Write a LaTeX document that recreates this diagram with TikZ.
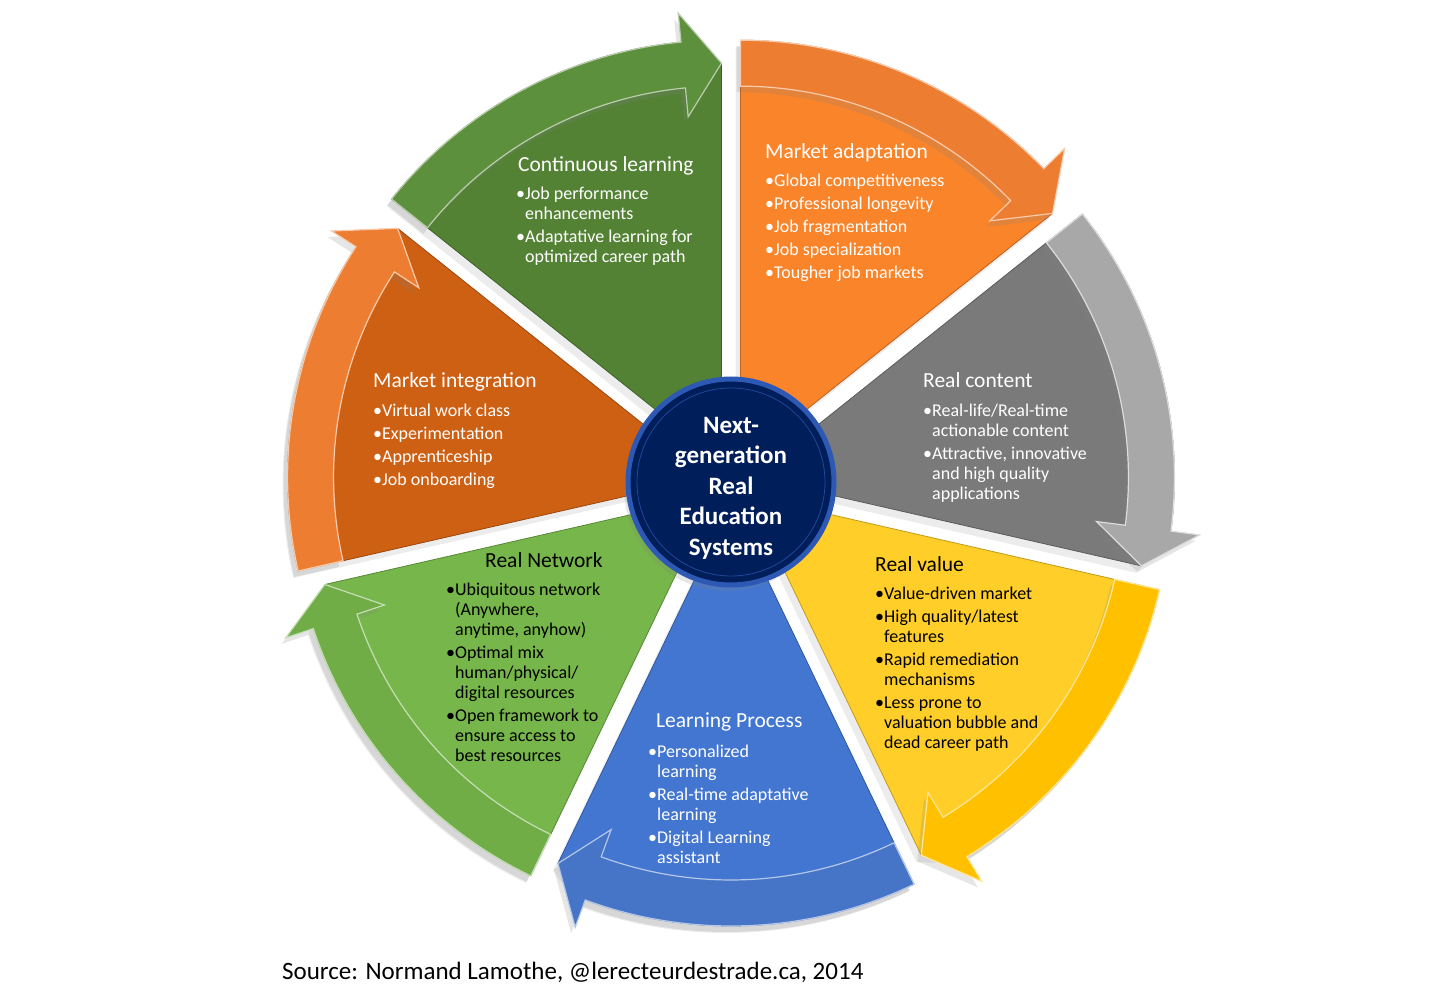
\documentclass[tikz,border=0pt]{standalone}
\usepackage{fontspec}
\setmainfont{Carlito}
\usetikzlibrary{shadows}
\definecolor{clgreen}{RGB}{84,130,53}
\definecolor{clband}{RGB}{92,144,60}
\definecolor{maorange}{RGB}{250,132,42}
\definecolor{maband}{RGB}{237,125,49}
\definecolor{rcgray}{RGB}{122,122,122}
\definecolor{rcband}{RGB}{168,168,168}
\definecolor{rvyellow}{RGB}{255,206,40}
\definecolor{rvband}{RGB}{255,192,0}
\definecolor{lpblue}{RGB}{66,118,208}
\definecolor{lpband}{RGB}{70,116,198}
\definecolor{rngreen}{RGB}{118,182,74}
\definecolor{rnband}{RGB}{112,173,71}
\definecolor{miorange}{RGB}{206,96,20}
\definecolor{miband}{RGB}{237,125,49}
\definecolor{hubnavy}{RGB}{0,30,90}
\definecolor{hubring}{RGB}{45,88,180}

\begin{document}
\begin{tikzpicture}[x=1pt,y=1pt]
    \tikzstyle{slice}=[line width=0.8pt, drop shadow={opacity=0.15, shadow xshift=-5pt, shadow yshift=-7pt}];
    \tikzstyle{band}=[line width=1.2pt, drop shadow={opacity=0.2, shadow xshift=-4pt, shadow yshift=-6pt}];
    \tikzstyle{ttl}=[anchor=base west, inner sep=0, font=\fontsize{21.5}{24}\selectfont];
    \tikzstyle{bul}=[anchor=north west, inner sep=0, align=left, font=\fontsize{18}{20}\selectfont, execute at begin node=\strut];

    \useasboundingbox (0,0) rectangle (1450,1002);

    % continuous learning
    \begin{scope}[shift={(731,520)}, shift={(115.71:22)}]
      \filldraw[slice, fill=clgreen, draw=clgreen!75!black] (0,0) -- (141.43:422) arc[start angle=141.43, end angle=95.5, radius=422pt] -- (90:399) -- cycle;
      \filldraw[band, fill=clband, draw=clgreen!40!white] (141.43:422) arc[start angle=141.43, end angle=95.5, radius=422pt] -- (95.5:451) -- (90:399) -- (95.5:347) -- (95.5:376) arc[start angle=95.5, end angle=141.43, radius=376pt] -- cycle;
    \end{scope}

    % market adaptation
    \begin{scope}[shift={(731,520)}, shift={(64.29:22)}]
      \filldraw[slice, fill=maorange, draw=maorange!75!black] (0,0) -- (90:422) arc[start angle=90, end angle=44.07, radius=422pt] -- (38.57:399) -- cycle;
      \filldraw[band, fill=maband, draw=maband!40!white] (90:422) arc[start angle=90, end angle=44.07, radius=422pt] -- (44.07:451) -- (38.57:399) -- (44.07:347) -- (44.07:376) arc[start angle=44.07, end angle=90, radius=376pt] -- cycle;
    \end{scope}

    % real content
    \begin{scope}[shift={(731,520)}, shift={(12.86:22)}]
      \filldraw[slice, fill=rcgray, draw=rcgray!75!black] (0,0) -- (38.57:422) arc[start angle=38.57, end angle=-7.36, radius=422pt] -- (-12.86:399) -- cycle;
      \filldraw[band, fill=rcband, draw=rcband!40!white] (38.57:422) arc[start angle=38.57, end angle=-7.36, radius=422pt] -- (-7.36:451) -- (-12.86:399) -- (-7.36:347) -- (-7.36:376) arc[start angle=-7.36, end angle=38.57, radius=376pt] -- cycle;
    \end{scope}

    % real value
    \begin{scope}[shift={(731,520)}, shift={(-38.57:22)}]
      \filldraw[slice, fill=rvyellow, draw=rvyellow!75!black] (0,0) -- (-12.86:422) arc[start angle=-12.86, end angle=-58.79, radius=422pt] -- (-64.29:399) -- cycle;
      \filldraw[band, fill=rvband, draw=rvband!40!white] (-12.86:422) arc[start angle=-12.86, end angle=-58.79, radius=422pt] -- (-58.79:451) -- (-64.29:399) -- (-58.79:347) -- (-58.79:376) arc[start angle=-58.79, end angle=-12.86, radius=376pt] -- cycle;
    \end{scope}

    % learning process
    \begin{scope}[shift={(731,520)}, shift={(-90:22)}]
      \filldraw[slice, fill=lpblue, draw=lpblue!75!black] (0,0) -- (-64.29:422) arc[start angle=-64.29, end angle=-110.21, radius=422pt] -- (-115.71:399) -- cycle;
      \filldraw[band, fill=lpband, draw=lpband!40!white] (-64.29:422) arc[start angle=-64.29, end angle=-110.21, radius=422pt] -- (-110.21:451) -- (-115.71:399) -- (-110.21:347) -- (-110.21:376) arc[start angle=-110.21, end angle=-64.29, radius=376pt] -- cycle;
    \end{scope}

    % real network
    \begin{scope}[shift={(731,520)}, shift={(-141.43:22)}]
      \filldraw[slice, fill=rngreen, draw=rngreen!75!black] (0,0) -- (-115.71:422) arc[start angle=-115.71, end angle=-161.64, radius=422pt] -- (-167.14:399) -- cycle;
      \filldraw[band, fill=rnband, draw=rnband!40!white] (-115.71:422) arc[start angle=-115.71, end angle=-161.64, radius=422pt] -- (-161.64:451) -- (-167.14:399) -- (-161.64:347) -- (-161.64:376) arc[start angle=-161.64, end angle=-115.71, radius=376pt] -- cycle;
    \end{scope}

    % market integration
    \begin{scope}[shift={(731,520)}, shift={(-192.86:22)}]
      \filldraw[slice, fill=miorange, draw=miorange!75!black] (0,0) -- (-167.14:422) arc[start angle=-167.14, end angle=-213.07, radius=422pt] -- (-218.57:399) -- cycle;
      \filldraw[band, fill=miband, draw=miband!40!white] (-167.14:422) arc[start angle=-167.14, end angle=-213.07, radius=422pt] -- (-213.07:451) -- (-218.57:399) -- (-213.07:347) -- (-213.07:376) arc[start angle=-213.07, end angle=-167.14, radius=376pt] -- cycle;
    \end{scope}

    % hub
    \node[circle, fill=hubnavy, draw=hubring, line width=5pt, minimum size=206pt, drop shadow={opacity=0.2, shadow xshift=-4pt, shadow yshift=-6pt}] at (731,520) (hub) {};
    \draw[hubring!70!hubnavy, line width=0.8pt] (hub.center) circle[radius=94pt];
    \node[align=center, text=white, font=\bfseries\fontsize{25}{30.5}\selectfont] at (731,514) (hubtxt) {Next-\\generation\\Real\\Education\\Systems};

    % texts
    \node[ttl, text=white] at (518,830.3) (cl) {Continuous learning};
    \node[bul, text=white] at (516,815) (clb) {•Job performance\\\hspace*{9pt}enhancements\\[3pt]•Adaptative learning for\\\hspace*{9pt}optimized career path};

    \node[ttl, text=white] at (765,843) (ma) {Market adaptation};
    \node[bul, text=white] at (765,828.3) (mab) {•Global competitiveness\\[3pt]•Professional longevity\\[3pt]•Job fragmentation\\[3pt]•Job specialization\\[3pt]•Tougher job markets};

    \node[ttl, text=white] at (923,614) (rc) {Real content};
    \node[bul, text=white] at (923,598.6) (rcb) {•Real-life/Real-time\\\hspace*{9pt}actionable content\\[3pt]•Attractive, innovative\\\hspace*{9pt}and high quality\\\hspace*{9pt}applications};

    \node[ttl] at (875,430.3) (rv) {Real value};
    \node[bul] at (875,415) (rvb) {•Value-driven market\\[3pt]•High quality/latest\\\hspace*{9pt}features\\[3pt]•Rapid remediation\\\hspace*{9pt}mechanisms\\[3pt]•Less prone to\\\hspace*{9pt}valuation bubble and\\\hspace*{9pt}dead career path};

    \node[ttl, text=white] at (656,275) (lp) {Learning Process};
    \node[bul, text=white] at (648,257.5) (lpb) {•Personalized\\\hspace*{9pt}learning\\[3pt]•Real-time adaptative\\\hspace*{9pt}learning\\[3pt]•Digital Learning\\\hspace*{9pt}assistant};

    \node[ttl] at (485,434.8) (rn) {Real Network};
    \node[bul] at (446,419) (rnb) {•Ubiquitous network\\\hspace*{9pt}(Anywhere,\\\hspace*{9pt}anytime, anyhow)\\[3pt]•Optimal mix\\\hspace*{9pt}human/physical/\\\hspace*{9pt}digital resources\\[3pt]•Open framework to\\\hspace*{9pt}ensure access to\\\hspace*{9pt}best resources};

    \node[ttl, text=white] at (373,614.5) (mi) {Market integration};
    \node[bul, text=white] at (373,598.3) (mib) {•Virtual work class\\[3pt]•Experimentation\\[3pt]•Apprenticeship\\[3pt]•Job onboarding};

    \node[anchor=base west, inner sep=0, font=\fontsize{25}{30}\selectfont] at (282,23) (src) {Source: Normand Lamothe, @lerecteurdestrade.ca, 2014};
\end{tikzpicture}
\end{document}
